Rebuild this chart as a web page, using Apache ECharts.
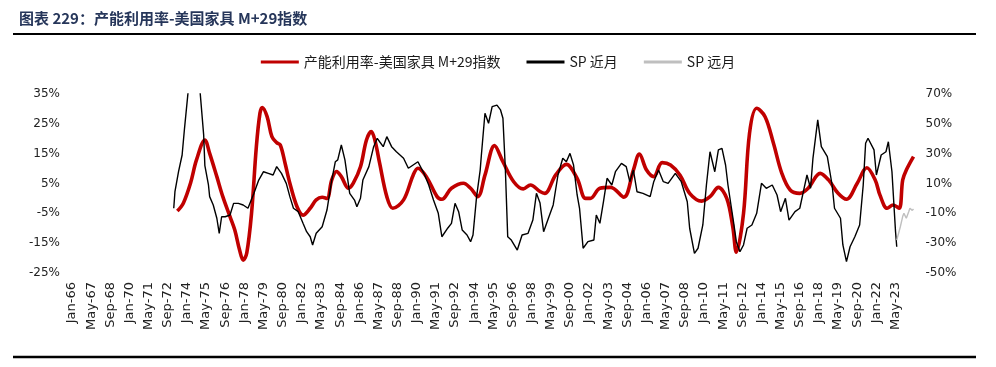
<!DOCTYPE html>
<html>
<head>
<meta charset="utf-8">
<script src="https://cdn.jsdelivr.net/npm/echarts@6/dist/echarts.min.js"></script>
<style>
html,body{margin:0;padding:0;background:#fff;}
#c{width:996px;height:367px;}
</style>
</head>
<body>
<div id="c"></div>
<script>
// ---- Data ----
const MONTHS = ['Jan','Feb','Mar','Apr','May','Jun','Jul','Aug','Sep','Oct','Nov','Dec'];
const startYear = 1966, endYear = 2024, endMonth = 8; // categories Jan-66 .. Aug-24

const leftTicks = [-25, -15, -5, 5, 15, 25, 35];
const rightTicks = [-50, -30, -10, 10, 30, 50, 70];

// 产能利用率-美国家具 M+29指数 (left axis, %)
const redDates = ['1973-05','1973-10','1974-04','1974-09','1975-04','1975-08','1976-02','1976-07','1977-01','1977-05','1977-09','1977-12','1978-03','1978-07','1978-11','1979-02','1979-04','1979-08','1979-12','1980-04','1980-07','1980-11','1981-03','1981-09','1982-02','1982-08','1983-01','1983-06','1983-10','1984-02','1984-06','1984-10','1985-04','1985-08','1986-02','1986-07','1986-11','1987-02','1987-06','1987-12','1988-05','1989-02','1989-10','1990-02','1990-09','1991-06','1991-10','1992-06','1993-04','1993-10','1994-04','1994-10','1995-06','1996-01','1996-10','1997-06','1997-12','1998-08','1998-12','1999-09','2000-06','2001-03','2001-10','2002-02','2002-10','2003-07','2004-06','2005-02','2005-07','2006-01','2006-07','2007-02','2007-09','2008-05','2009-01','2009-11','2010-06','2011-01','2011-08','2012-01','2012-04','2012-10','2013-03','2013-09','2014-04','2014-11','2015-06','2016-01','2016-09','2017-04','2018-02','2018-09','2019-05','2019-12','2020-09','2021-05','2021-12','2022-04','2022-10','2023-03','2023-08','2023-11','2024-02','2024-08'];
const redValues = [-4.2,-1.6,5.1,12.9,19.6,15.1,7.3,0.6,-6.1,-10.6,-17.3,-20.7,-18.3,-4.9,17.3,28.5,30.5,27.4,20.7,18.7,17.9,11.8,5.1,-2.8,-5.6,-3.3,-0.5,0.4,0.0,6.2,9.0,7.3,3.4,5.1,10.6,19.6,22.4,19.6,11.8,0.6,-3.3,-0.5,7.8,10.1,7.3,0.6,-0.3,3.4,5.1,3.4,0.6,7.8,17.7,12.3,5.6,3.2,4.5,2.3,1.7,7.8,11.4,6.7,0.0,0.0,3.4,3.7,0.4,9.5,14.9,9.5,7.3,12.0,11.2,7.8,1.7,-0.9,0.6,3.7,0.0,-9.5,-18.0,-5.0,21.8,30.2,27.4,18.5,8.4,2.8,1.7,3.4,8.4,6.2,1.7,-0.3,5.1,10.3,6.2,1.1,-3.3,-2.2,-3.3,6.2,9.5,14.0];

// SP 近月 (right axis, %)
const blackDates = ['1973-02','1973-03','1973-06','1973-09','1973-11','1974-02','1974-04','1974-06','1974-09','1974-12','1975-03','1975-04','1975-07','1975-08','1975-11','1976-02','1976-04','1976-06','1976-09','1977-01','1977-04','1977-08','1977-12','1978-04','1978-09','1979-01','1979-05','1979-09','1980-01','1980-04','1980-08','1980-12','1981-03','1981-06','1981-10','1982-02','1982-05','1982-08','1982-10','1983-01','1983-06','1983-10','1984-02','1984-05','1984-07','1984-10','1985-01','1985-03','1985-05','1985-09','1985-11','1986-02','1986-04','1986-09','1987-01','1987-04','1987-06','1987-09','1987-12','1988-04','1988-08','1989-02','1989-06','1989-10','1990-02','1990-07','1990-11','1991-03','1991-07','1991-10','1992-03','1992-06','1992-09','1992-12','1993-03','1993-07','1993-10','1993-12','1994-03','1994-06','1994-07','1994-10','1995-01','1995-04','1995-08','1995-11','1996-01','1996-03','1996-05','1996-08','1997-01','1997-05','1997-10','1998-02','1998-05','1998-08','1998-11','1999-03','1999-07','1999-11','2000-03','2000-06','2000-09','2000-12','2001-03','2001-05','2001-08','2001-12','2002-05','2002-07','2002-10','2003-01','2003-04','2003-08','2003-11','2004-04','2004-08','2004-11','2005-02','2005-05','2005-10','2006-04','2006-07','2006-11','2007-03','2007-07','2008-01','2008-06','2008-11','2009-01','2009-05','2009-08','2009-12','2010-03','2010-06','2010-10','2011-01','2011-04','2011-07','2011-09','2012-02','2012-04','2012-07','2012-10','2013-01','2013-05','2013-09','2014-01','2014-05','2014-10','2015-02','2015-05','2015-09','2015-12','2016-05','2016-09','2016-12','2017-03','2017-06','2017-08','2017-12','2018-03','2018-08','2018-12','2019-02','2019-07','2019-09','2019-12','2020-03','2020-07','2020-11','2021-02','2021-04','2021-06','2021-11','2022-01','2022-05','2022-09','2022-11','2023-02','2023-05','2023-06'];
const blackValues = [-6.6,4.5,17.9,29.1,47.0,71.5,95,105,98,71.5,42.5,22,9.0,1.2,-4.4,-13.3,-23.4,-12.3,-12.3,-11.1,-3.3,-3.3,-4.4,-6.6,3.4,12.3,17.9,16.8,15.7,21.3,16.8,10.1,1.2,-6.6,-8.9,-16.7,-22.3,-25.7,-31.2,-23.4,-19.0,-7.8,12.3,24.6,25.8,35.8,25.8,14.6,3.4,-1.1,-5.6,0.1,12.3,21.3,34.7,40.3,38.0,34.7,41.4,34.7,31.3,26.9,20.2,22.4,24.6,16.8,9.0,-1.1,-10.0,-25.7,-19.8,-16.7,-3.3,-8.9,-21.2,-24.5,-29.0,-24.5,1.2,19.0,29.1,57.1,50.4,61.5,62.6,59.3,53.7,20.2,-25.7,-27.9,-34.6,-24.5,-23.4,-14.5,3.4,-3.1,-22.3,-13.3,-4.4,15.7,26.9,24.6,30.2,22.4,2.3,-6.6,-33.4,-29.0,-27.9,-11.1,-16.7,-2.2,13.5,9.0,17.9,23.5,21.3,11.2,19.0,4.5,3.4,1.2,11.2,19.0,11.2,10.1,16.8,11.2,-2.2,-20.0,-36.8,-33.4,-17.8,9.0,31.3,17.9,32.5,33.6,22.4,9.0,-17.8,-29.0,-35.7,-31.2,-20.0,-17.8,-10.0,10.1,6.8,9.0,2.3,-8.9,0.1,-14.5,-8.9,-6.6,4.5,15.7,6.8,26.9,52.6,34.7,28.0,9.0,-6.6,-13.3,-31.2,-42.4,-32.4,-25.7,-17.8,9.0,37.0,40.3,32.5,15.7,29.1,31.3,38.0,17.9,-22.3,-32.4];

// SP 远月 (right axis, %)
const grayDates = ['2023-06','2023-08','2023-09','2023-11','2023-12','2024-02','2024-04','2024-05','2024-07','2024-08'];
const grayValues = [-28,-22,-19.0,-12,-10.0,-13.3,-9,-6.6,-8,-7.1];

// ---- Build categories ----
const categories = [];
for (let y = startYear; y <= endYear; y++) {
  for (let m = 0; m < 12; m++) {
    if (y === endYear && m >= endMonth) break;
    categories.push(MONTHS[m] + '-' + String(y % 100).padStart(2, '0'));
  }
}
function toCat(s) {
  const p = s.split('-').map(Number);
  return MONTHS[p[1] - 1] + '-' + String(p[0] % 100).padStart(2, '0');
}
function pairs(dates, vals) { return dates.map((d, i) => [toCat(d), vals[i]]); }

const chart = echarts.init(document.getElementById('c'), null, { renderer: 'canvas' });
const latin = 'DejaVu Sans, "Noto Sans CJK SC", sans-serif';
const cjk = '"Noto Sans CJK SC", "DejaVu Sans", sans-serif';

chart.setOption({
  animation: false,
  backgroundColor: '#ffffff',
  title: {
    text: '图表 229：产能利用率-美国家具 M+29指数',
    left: 14, top: 6,
    textStyle: { fontSize: 15, fontWeight: 'bold', color: '#26365a', fontFamily: cjk }
  },
  graphic: [
    { type: 'line', shape: { x1: 13, y1: 34, x2: 976, y2: 34 }, style: { stroke: '#000', lineWidth: 2 } },
    { type: 'line', shape: { x1: 13, y1: 357, x2: 976, y2: 357 }, style: { stroke: '#000', lineWidth: 2.5 } }
  ],
  legend: {
    top: 50, left: 'center',
    icon: 'rect', itemWidth: 38, itemHeight: 3, itemGap: 26,
    textStyle: { fontSize: 14, color: '#1a1a1a', fontFamily: cjk },
    data: ['产能利用率-美国家具 M+29指数', 'SP 近月', 'SP 远月']
  },
  grid: { left: 72, right: 82.5, top: 94, bottom: 94, containLabel: false },
  xAxis: {
    type: 'category', data: categories, boundaryGap: false,
    axisLine: { show: false }, axisTick: { show: false },
    axisLabel: { interval: 15, rotate: 90, margin: 9, fontSize: 13, color: '#222', fontFamily: latin },
    splitLine: { show: false }
  },
  yAxis: [
    {
      type: 'value', min: leftTicks[0], max: leftTicks[leftTicks.length - 1], interval: 10,
      axisLine: { show: false }, axisTick: { show: false }, splitLine: { show: false },
      axisLabel: { formatter: '{value}%', margin: 12, fontSize: 12, color: '#222', fontFamily: latin }
    },
    {
      type: 'value', min: rightTicks[0], max: rightTicks[rightTicks.length - 1], interval: 20,
      axisLine: { show: false }, axisTick: { show: false }, splitLine: { show: false },
      axisLabel: { formatter: '{value}%', margin: 12, fontSize: 12, color: '#222', fontFamily: latin }
    }
  ],
  series: [
    {
      name: '产能利用率-美国家具 M+29指数', type: 'line', yAxisIndex: 0,
      data: pairs(redDates, redValues), smooth: 0.35, showSymbol: false, symbol: 'none',
      lineStyle: { color: '#c00000', width: 3.6 }, itemStyle: { color: '#c00000' }, z: 2
    },
    {
      name: 'SP 近月', type: 'line', yAxisIndex: 1,
      data: pairs(blackDates, blackValues), showSymbol: false, symbol: 'none',
      lineStyle: { color: '#000000', width: 1.4 }, itemStyle: { color: '#000000' }, z: 3
    },
    {
      name: 'SP 远月', type: 'line', yAxisIndex: 1,
      data: pairs(grayDates, grayValues), showSymbol: false, symbol: 'none',
      lineStyle: { color: '#bfbfbf', width: 1.4 }, itemStyle: { color: '#bfbfbf' }, z: 3
    }
  ]
});
</script>
</body>
</html>
